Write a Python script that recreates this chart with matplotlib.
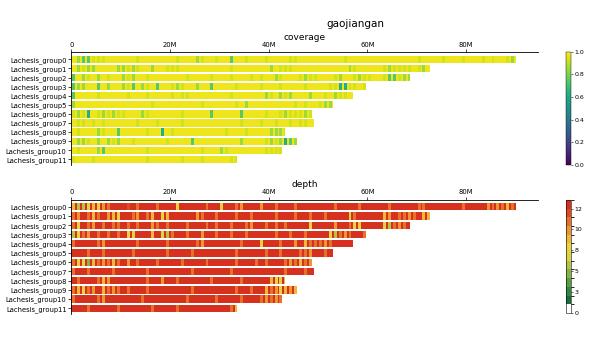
import numpy as np
import matplotlib
matplotlib.use('Agg')
import matplotlib.pyplot as plt
from matplotlib.colors import ListedColormap, BoundaryNorm, Normalize
from matplotlib.cm import ScalarMappable
from matplotlib.ticker import FuncFormatter

# Chromosomes and their lengths (Mb)
chrom_names = ['Lachesis_group%d' % i for i in range(12)]
chrom_len = [90.2, 72.7, 68.7, 59.7, 57.2, 53.0, 48.7, 49.2, 43.3, 45.8, 42.8, 33.6]

# Coverage per 1 Mb window, one digit per window
cov_codes = [
    "9766888999" "9998999999" "9899978998" "9969989998" "9999889999" "9999989999" "9999999999" "8999989998" "9998989987" "7",
    "9787799997" "7878997998" "8899999999" "9989999999" "7988899999" "9999997899" "9998788889" "879",
    "6978979899" "7879989999" "9998999989" "9989998989" "9789998788" "9998799878" "899866877",
    "6779969799" "7869789699" "8789979969" "9998999989" "9989999899" "9988558898",
    "6999989999" "9899989999" "8988999999" "9989999997" "8978799979" "98978899",
    "7999999999" "9999998999" "9999998999" "9998979999" "9999989899" "877",
    "8785987878" "8999789999" "9989999969" "9999699998" "998788878",
    "9889898999" "9998999899" "9989999999" "9999899989" "9899898898",
    "9899978996" "9999989959" "8999999999" "9899989999" "7778",
    "9778979787" "9989999998" "9999699999" "9999799998" "787567",
    "9899976999" "9999989999" "9999998999" "7899999998" "888",
    "8999899999" "9999989999" "9989998999" "9988",
]
cov_levels = {'9': 0.975, '8': 0.93, '7': 0.85, '6': 0.74, '5': 0.62}

# Depth per 1 Mb window, one hex digit per window (depth bin)
depth_codes = [
    "8556879acc" "cbcacccacc" "c7cccccacc" "7cca9ccc9c" "cacccacccc" "cccaccccac" "ccccaccccc" "aaccccccca" "cccc9a9a8a" "a",
    "a9ca8ac987" "cca9ca8c78" "ccccc9acca" "cccaccaccc" "cacccaccac" "cacccc6acc" "ccc89caa9a" "c88",
    "a7ca9cacaa" "cacacc9aca" "cccacccaca" "ccacca9cca" "cacacccc7c" "ccc9cca77c" "ccc65a9ac",
    "57a9cacaca" "c76ccc8c65" "accacc9cca" "ccaccacccc" "caccaccacc" "cc75a9acca",
    "acccca9ccc" "cccaccccca" "ccccca9ccc" "ccccaccc7c" "ccacc9c8aa" "a9accccc",
    "cccaccaccc" "ccacccccca" "ccccaccccc" "cccaccccca" "ccacccaa9c" "cac",
    "a7748a9a8a" "c9cacccacc" "ccaccccacc" "cccacccaca" "ccca9a8a9",
    "accaccccac" "cccccacccc" "ccccaccccc" "ccaccccccc" "cccacccaca",
    "caccca89cc" "cccccacc9c" "caccccccac" "ccccaccccc" "8768",
    "a87a9c8a9a" "cacccacccc" "ccccaccccc" "cccaccacc8" "a97898",
    "acccca9ccc" "ccccaccccc" "cccaccccca" "ccccaccca9" "a9a",
    "cccaccccca" "ccccccaccc" "cacccccccc" "cca8",
]
depth_colors = ['#ffffff', '#1d6b3a', '#2f8a3f', '#55a043', '#86b443', '#b4c545',
                '#dcd443', '#ecd241', '#f0b83a', '#ee9632', '#e7702a', '#df4a23', '#d6301f']
depth_ticks = np.linspace(0, 12, 6)
depth_ticklabels = ['0', '3', '5', '8', '10', '12']

xmax = 94.6


def mb_fmt(x, pos):
    return '0' if x == 0 else '%dM' % x


def draw_panel(ax, codes, to_value, base, cmap, norm, title):
    for row, (code, L) in enumerate(zip(codes, chrom_len)):
        # background of the chromosome in the dominant value
        ax.barh(row, L, left=0, height=0.8, color=cmap(norm(to_value(base))), linewidth=0)
        # windows that differ drawn as thin stripes
        idx = np.array([i for i, c in enumerate(code) if c != base])
        if len(idx) == 0:
            continue
        vals = np.array([to_value(code[i]) for i in idx])
        starts = idx + 0.2
        widths = np.clip(L - starts, 0, 0.6)
        ax.barh(row, widths, left=starts, height=0.8,
                color=cmap(norm(vals)), linewidth=0)
    ax.set_xlim(0, xmax)
    ax.set_ylim(11.6, -0.75)
    ax.set_yticks(range(len(chrom_names)))
    ax.set_yticklabels(chrom_names)
    ax.xaxis.tick_top()
    ax.set_xticks([0, 20, 40, 60, 80])
    ax.xaxis.set_major_formatter(FuncFormatter(mb_fmt))
    ax.tick_params(labelsize=4.9, length=2, width=0.5, pad=1.5)
    for s in ['right', 'bottom']:
        ax.spines[s].set_visible(False)
    for s in ['top', 'left']:
        ax.spines[s].set_linewidth(0.6)
    ax.set_title(title, fontsize=6.5, pad=0.5)


fig = plt.figure(figsize=(5.95, 3.5), dpi=100)

ax1 = fig.add_axes([0.120, 0.529, 0.784, 0.321])
cov_cmap = plt.get_cmap('viridis')
cov_norm = Normalize(0, 1)
draw_panel(ax1, cov_codes, lambda c: cov_levels[c], '9', cov_cmap, cov_norm, 'coverage')

ax2 = fig.add_axes([0.120, 0.103, 0.784, 0.326])
dep_cmap = ListedColormap(depth_colors)
dep_norm = BoundaryNorm(np.arange(0, len(depth_colors) + 1), dep_cmap.N)
draw_panel(ax2, depth_codes, lambda c: int(c, 16) + 0.5, 'c', dep_cmap, dep_norm, 'depth')

cax1 = fig.add_axes([0.951, 0.529, 0.0084, 0.323])
cb1 = fig.colorbar(ScalarMappable(cov_norm, cov_cmap), cax=cax1)
cb1.set_ticks([0, 0.2, 0.4, 0.6, 0.8, 1.0])
cb1.ax.tick_params(labelsize=4.5, length=1.5, width=0.4, pad=1)
cb1.outline.set_linewidth(0.3)

cax2 = fig.add_axes([0.951, 0.106, 0.0084, 0.323])
cb2 = fig.colorbar(ScalarMappable(dep_norm, dep_cmap), cax=cax2)
cb2.set_ticks(depth_ticks)
cb2.set_ticklabels(depth_ticklabels)
cb2.ax.tick_params(labelsize=4.5, length=1.5, width=0.4, pad=1)
cb2.outline.set_linewidth(0.4)

fig.text(0.597, 0.931, 'gaojiangan', fontsize=7.5, ha='center', va='center')

fig.savefig('out.png', dpi=100)
